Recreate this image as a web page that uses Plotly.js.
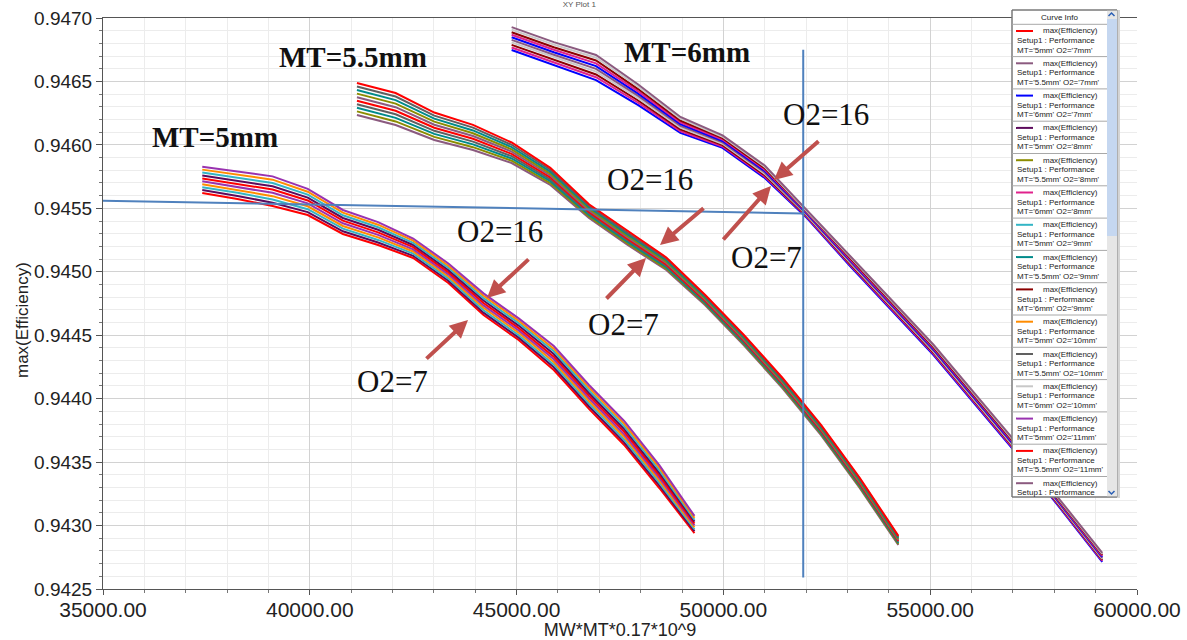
<!DOCTYPE html>
<html><head><meta charset="utf-8">
<script src="https://cdn.plot.ly/plotly-3.0.1.min.js"></script>
<style>html,body{margin:0;padding:0;background:#fff}#chart{width:1187px;height:640px}</style>
</head><body><div id="chart"></div>
<script>
// ---------------- DATA ----------------
const mtLabels = ['5mm', '5.5mm', '6mm'];
const o2Labels = ['7mm', '8mm', '9mm', '10mm', '11mm', '12mm', '13mm', '14mm', '15mm', '16mm'];

// x = MW*MT*0.17*10^9 for MW = 44..58 mm
const xMT5  = [37400, 38250, 39100, 39950, 40800, 41650, 42500, 43350, 44200, 45050, 45900, 46750, 47600, 48450, 49300];
const xMT55 = [41140, 42075, 43010, 43945, 44880, 45815, 46750, 47685, 48620, 49555, 50490, 51425, 52360, 53295, 54230];
const xMT6  = [44880, 45900, 46920, 47940, 48960, 49980, 51000, 52020, 53040, 54060, 55080, 56100, 57120, 58140, 59160];

// max(Efficiency), one row per O2 (7mm .. 16mm)
const effMT5 = [
  [0.945621, 0.945574, 0.945518, 0.945447, 0.945298, 0.945211, 0.945109, 0.944912, 0.944659, 0.944462, 0.944226, 0.943919, 0.943635, 0.943296, 0.942941],
  [0.945644, 0.945598, 0.945544, 0.945470, 0.945319, 0.945231, 0.945126, 0.944929, 0.944678, 0.944481, 0.944247, 0.943940, 0.943656, 0.943316, 0.942956],
  [0.945667, 0.945622, 0.945570, 0.945493, 0.945340, 0.945251, 0.945143, 0.944946, 0.944697, 0.944500, 0.944268, 0.943961, 0.943677, 0.943336, 0.942971],
  [0.945690, 0.945646, 0.945596, 0.945516, 0.945361, 0.945271, 0.945160, 0.944963, 0.944716, 0.944519, 0.944289, 0.943982, 0.943698, 0.943356, 0.942986],
  [0.945713, 0.945670, 0.945622, 0.945539, 0.945382, 0.945291, 0.945177, 0.944980, 0.944735, 0.944538, 0.944310, 0.944003, 0.943719, 0.943376, 0.943001],
  [0.945736, 0.945694, 0.945648, 0.945562, 0.945403, 0.945311, 0.945194, 0.944997, 0.944754, 0.944557, 0.944331, 0.944024, 0.943740, 0.943396, 0.943016],
  [0.945759, 0.945718, 0.945674, 0.945585, 0.945424, 0.945331, 0.945211, 0.945014, 0.944773, 0.944576, 0.944352, 0.944045, 0.943761, 0.943416, 0.943031],
  [0.945782, 0.945742, 0.945700, 0.945608, 0.945445, 0.945351, 0.945228, 0.945031, 0.944792, 0.944595, 0.944373, 0.944066, 0.943782, 0.943436, 0.943046],
  [0.945805, 0.945766, 0.945726, 0.945631, 0.945466, 0.945371, 0.945245, 0.945048, 0.944811, 0.944614, 0.944394, 0.944087, 0.943803, 0.943456, 0.943061],
  [0.945828, 0.945790, 0.945752, 0.945654, 0.945487, 0.945391, 0.945262, 0.945065, 0.944830, 0.944633, 0.944415, 0.944108, 0.943824, 0.943476, 0.943076]
];
const effMT55 = [
  [0.946236, 0.946157, 0.946039, 0.945960, 0.945857, 0.945684, 0.945424, 0.945211, 0.945014, 0.944738, 0.944423, 0.944084, 0.943713, 0.943296, 0.942847],
  [0.946264, 0.946185, 0.946063, 0.945982, 0.945875, 0.945699, 0.945436, 0.945223, 0.945025, 0.944747, 0.944432, 0.944093, 0.943722, 0.943305, 0.942855],
  [0.946292, 0.946213, 0.946087, 0.946004, 0.945893, 0.945714, 0.945448, 0.945235, 0.945036, 0.944756, 0.944441, 0.944102, 0.943731, 0.943314, 0.942863],
  [0.946320, 0.946241, 0.946111, 0.946026, 0.945911, 0.945729, 0.945460, 0.945247, 0.945047, 0.944765, 0.944450, 0.944111, 0.943740, 0.943323, 0.942871],
  [0.946348, 0.946269, 0.946135, 0.946048, 0.945929, 0.945744, 0.945472, 0.945259, 0.945058, 0.944774, 0.944459, 0.944120, 0.943749, 0.943332, 0.942879],
  [0.946376, 0.946297, 0.946159, 0.946070, 0.945947, 0.945759, 0.945484, 0.945271, 0.945069, 0.944783, 0.944468, 0.944129, 0.943758, 0.943341, 0.942887],
  [0.946404, 0.946325, 0.946183, 0.946092, 0.945965, 0.945774, 0.945496, 0.945283, 0.945080, 0.944792, 0.944477, 0.944138, 0.943767, 0.943350, 0.942895],
  [0.946432, 0.946353, 0.946207, 0.946114, 0.945983, 0.945789, 0.945508, 0.945295, 0.945091, 0.944801, 0.944486, 0.944147, 0.943776, 0.943359, 0.942903],
  [0.946460, 0.946381, 0.946231, 0.946136, 0.946001, 0.945804, 0.945520, 0.945307, 0.945102, 0.944810, 0.944495, 0.944156, 0.943785, 0.943368, 0.942911],
  [0.946488, 0.946409, 0.946255, 0.946158, 0.946019, 0.945819, 0.945532, 0.945319, 0.945113, 0.944819, 0.944504, 0.944165, 0.943794, 0.943377, 0.942919]
];
const effMT6 = [
  [0.946748, 0.946630, 0.946511, 0.946314, 0.946094, 0.945976, 0.945739, 0.945424, 0.945053, 0.944699, 0.944344, 0.943950, 0.943556, 0.943138, 0.942713],
  [0.946768, 0.946650, 0.946533, 0.946332, 0.946108, 0.945987, 0.945750, 0.945431, 0.945062, 0.944708, 0.944353, 0.943959, 0.943565, 0.943145, 0.942721],
  [0.946788, 0.946670, 0.946555, 0.946350, 0.946122, 0.945998, 0.945761, 0.945438, 0.945071, 0.944717, 0.944362, 0.943968, 0.943574, 0.943152, 0.942729],
  [0.946808, 0.946690, 0.946577, 0.946368, 0.946136, 0.946009, 0.945772, 0.945445, 0.945080, 0.944726, 0.944371, 0.943977, 0.943583, 0.943159, 0.942737],
  [0.946828, 0.946710, 0.946599, 0.946386, 0.946150, 0.946020, 0.945783, 0.945452, 0.945089, 0.944735, 0.944380, 0.943986, 0.943592, 0.943166, 0.942745],
  [0.946848, 0.946730, 0.946621, 0.946404, 0.946164, 0.946031, 0.945794, 0.945459, 0.945098, 0.944744, 0.944389, 0.943995, 0.943601, 0.943173, 0.942753],
  [0.946868, 0.946750, 0.946643, 0.946422, 0.946178, 0.946042, 0.945805, 0.945466, 0.945107, 0.944753, 0.944398, 0.944004, 0.943610, 0.943180, 0.942761],
  [0.946888, 0.946770, 0.946665, 0.946440, 0.946192, 0.946053, 0.945816, 0.945473, 0.945116, 0.944762, 0.944407, 0.944013, 0.943619, 0.943187, 0.942769],
  [0.946908, 0.946790, 0.946687, 0.946458, 0.946206, 0.946064, 0.945827, 0.945480, 0.945125, 0.944771, 0.944416, 0.944022, 0.943628, 0.943194, 0.942777],
  [0.946928, 0.946810, 0.946709, 0.946476, 0.946220, 0.946075, 0.945838, 0.945487, 0.945134, 0.944780, 0.944425, 0.944031, 0.943637, 0.943201, 0.942785]
];

// reference (blue) marker lines
const refHX = [35000, 51930];
const refHY = [0.94556, 0.94546];
const refVX = [51930, 51930];
const refVY = [0.94675, 0.94259];

// ---------------- STYLE ----------------
const palette = ['#ff0000', '#8b5a7f', '#0000ff', '#5c0a5c', '#8c8c00', '#e0228c', '#33b5c5',
                 '#008b8b', '#8b0000', '#ff8c00', '#606060', '#c8c8c8', '#9932b0', '#ff0000', '#8b5a7f'];
const familyX = [xMT5, xMT55, xMT6];
const familyY = [effMT5, effMT55, effMT6];

const ML = 103, MT = 18, PW = 1034, PH = 571;
const XR = [35000, 60000], YR = [0.9425, 0.9470];
const px = x => (x - ML) / PW;          // pixel -> paper
const py = y => (MT + PH - y) / PH;
const dx = x => XR[0] + (x - ML) * (XR[1] - XR[0]) / PW;  // pixel -> data
const dy = y => YR[1] - (y - MT) * (YR[1] - YR[0]) / PH;

const traces = [];
const entries = [];
for (let o = 0; o < o2Labels.length; o++) {
  for (let m = 0; m < mtLabels.length; m++) {
    const idx = traces.length;
    const col = palette[idx % palette.length];
    traces.push({
      type: 'scatter', mode: 'lines', x: familyX[m], y: familyY[m][o],
      line: { color: col, width: 2 }, hoverinfo: 'skip', showlegend: false,
      name: "MT='" + mtLabels[m] + "' O2='" + o2Labels[o] + "'"
    });
    entries.push({ color: col, label: "MT='" + mtLabels[m] + "' O2='" + o2Labels[o] + "'" });
  }
}
traces.push({ type: 'scatter', mode: 'lines', x: refHX, y: refHY, line: { color: '#4f81bd', width: 2 }, hoverinfo: 'skip', showlegend: false });
traces.push({ type: 'scatter', mode: 'lines', x: refVX, y: refVY, line: { color: '#4f81bd', width: 2 }, hoverinfo: 'skip', showlegend: false });

const shapes = [];
const annotations = [];

// ---- text labels on the plot ----
const serifBold = { family: 'Liberation Serif, DejaVu Serif, serif', size: 29, color: '#111' };
const serifReg = { family: 'Liberation Serif, DejaVu Serif, serif', size: 31, color: '#111' };
function label(t, x, y, font) {
  annotations.push({ text: t, x: px(x), y: py(y), xref: 'paper', yref: 'paper', showarrow: false,
    xanchor: 'center', yanchor: 'middle', font: font });
}
label('<b>MT=5mm</b>', 215, 137, serifBold);
label('<b>MT=5.5mm</b>', 353, 57, serifBold);
label('<b>MT=6mm</b>', 687, 52, serifBold);
label('O2=16', 500, 231, serifReg);
label('O2=7', 392, 381, serifReg);
label('O2=16', 650, 180, serifReg);
label('O2=7', 623, 325, serifReg);
label('O2=16', 826, 115, serifReg);
label('O2=7', 766, 257, serifReg);

// y-axis title placed as in the reference
annotations.push({ text: 'max(Efficiency)', x: px(23), y: py(320), xref: 'paper', yref: 'paper', showarrow: false,
  textangle: -90, xanchor: 'center', yanchor: 'middle',
  font: { family: 'Liberation Sans, Arial, sans-serif', size: 17, color: '#222' } });

function arrow(tx, ty, sx, sy) {
  annotations.push({ text: '', x: dx(tx), y: dy(ty), xref: 'x', yref: 'y', showarrow: true,
    ax: sx - tx, ay: sy - ty, arrowcolor: '#c0504d', arrowwidth: 4, arrowhead: 2, arrowsize: 0.9, standoff: 0 });
}
arrow(487, 298, 530, 258);
arrow(468, 320, 425, 360);
arrow(660, 245, 705, 207);
arrow(646, 258, 605, 300);
arrow(774, 180, 820, 140);
arrow(771, 186, 722, 241);

// ---- "Curve Info" legend panel ----
const bx0 = 1012, bx1 = 1107, by0 = 10, by1 = 497;
function rect(x0, y0, x1, y1, fill, line) {
  shapes.push({ type: 'rect', xref: 'paper', yref: 'paper', x0: px(x0), x1: px(x1), y0: py(y0), y1: py(y1),
    fillcolor: fill, line: line ? { color: line, width: 1 } : { width: 0 }, layer: 'above' });
}
function seg(x0, y0, x1, y1, color, w) {
  shapes.push({ type: 'line', xref: 'paper', yref: 'paper', x0: px(x0), x1: px(x1), y0: py(y0), y1: py(y1),
    line: { color: color, width: w }, layer: 'above' });
}
rect(1117, by0, 1120, by1 + 1, '#d4d4d4', null);
rect(bx0, by0, 1117, by1, '#ffffff', '#8a8a8a');
rect(bx1, by0, 1117, by1, '#e6e6e6', null);
rect(bx1, by0 + 9, 1117, 236, '#c5d7f0', null);
seg(bx0, by0, 1117, by0, '#707070', 1);
seg(bx0, by1, 1117, by1, '#707070', 1);
seg(bx0, by0, bx0, by1, '#707070', 1);
shapes.push({ type: 'path', xref: 'paper', yref: 'paper', layer: 'above',
  path: 'M ' + px(1108.5) + ',' + py(16) + ' L ' + px(1111.5) + ',' + py(13) + ' L ' + px(1114.5) + ',' + py(16),
  line: { color: '#2b5fb4', width: 1.5 } });
shapes.push({ type: 'path', xref: 'paper', yref: 'paper', layer: 'above',
  path: 'M ' + px(1108.5) + ',' + py(491) + ' L ' + px(1111.5) + ',' + py(494) + ' L ' + px(1114.5) + ',' + py(491),
  line: { color: '#2b5fb4', width: 1.5 } });

const lgFont = { family: 'Liberation Sans, Arial, sans-serif', size: 8, color: '#222' };
annotations.push({ text: 'Curve Info', x: px(1059), y: py(17.5), xref: 'paper', yref: 'paper', showarrow: false,
  xanchor: 'center', yanchor: 'middle', font: lgFont });
const pitch = 32.3;
for (let i = 0; i < 15; i++) {
  const top = 24.3 + pitch * i;
  seg(bx0, top, bx1, top, '#a8a8a8', 1);
  const ly = top + 6.7;
  seg(1016, ly, 1033, ly, entries[i].color, 2);
  annotations.push({ text: 'max(Efficiency)', x: px(1100), y: py(ly), xref: 'paper', yref: 'paper', showarrow: false,
    xanchor: 'right', yanchor: 'middle', font: lgFont });
  annotations.push({ text: 'Setup1 : Performance', x: px(1015), y: py(ly + 9.6), xref: 'paper', yref: 'paper', showarrow: false,
    xanchor: 'left', yanchor: 'middle', font: lgFont });
  if (ly + 19 < by1 - 4) {
    annotations.push({ text: entries[i].label, x: px(1015), y: py(ly + 19), xref: 'paper', yref: 'paper', showarrow: false,
      xanchor: 'left', yanchor: 'middle', font: lgFont });
  }
}

const layout = {
  width: 1187, height: 640,
  margin: { l: ML, r: 1187 - ML - PW, t: MT, b: 640 - MT - PH, pad: 0 },
  paper_bgcolor: '#ffffff', plot_bgcolor: '#ffffff',
  showlegend: false,
  title: { text: 'XY Plot 1', x: 0.488, xanchor: 'center', y: 0.993, yref: 'container', yanchor: 'middle',
    font: { family: 'Liberation Sans, Arial, sans-serif', size: 8, color: '#555' } },
  xaxis: {
    range: XR, dtick: 5000, tick0: 35000, tickformat: '.2f',
    showgrid: true, gridcolor: '#d2d2d2', gridwidth: 1, zeroline: false,
    showline: true, linecolor: '#555', linewidth: 1, mirror: true,
    ticks: 'outside', ticklen: 5, tickcolor: '#555',
    minor: { dtick: 1000, showgrid: true, gridcolor: '#ececec', ticks: 'outside', ticklen: 3, tickcolor: '#777' },
    tickfont: { family: 'Liberation Sans, Arial, sans-serif', size: 21, color: '#222' },
    ticklabelstandoff: -3,
    title: { text: 'MW*MT*0.17*10^9', standoff: 0, font: { family: 'Liberation Sans, Arial, sans-serif', size: 18, color: '#222' } }
  },
  yaxis: {
    range: YR, dtick: 0.0005, tick0: 0.9425, tickformat: '.4f',
    showgrid: true, gridcolor: '#d2d2d2', gridwidth: 1, zeroline: false,
    showline: true, linecolor: '#555', linewidth: 1,
    ticks: 'outside', ticklen: 6, tickcolor: '#555',
    minor: { dtick: 0.0001, showgrid: true, gridcolor: '#ececec', ticks: 'outside', ticklen: 3, tickcolor: '#777' },
    tickfont: { family: 'Liberation Sans, Arial, sans-serif', size: 19, color: '#222' }
  },
  shapes: shapes,
  annotations: annotations
};

Plotly.newPlot('chart', traces, layout, { staticPlot: true, displayModeBar: false });
</script>
</body></html>
